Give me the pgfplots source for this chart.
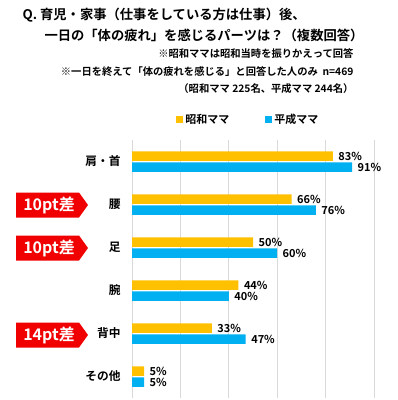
\documentclass[border=0pt]{standalone}
\usepackage{pgfplots}
\pgfplotsset{compat=1.18}
\usepackage{fontspec}
\setmainfont{Noto Sans CJK JP}[BoldFont={* Bold}]
\definecolor{showa}{RGB}{255,192,0}
\definecolor{heisei}{RGB}{0,176,240}
\definecolor{redtag}{RGB}{240,0,0}
\newcommand{\fs}[1]{\fontsize{#1bp}{#1bp}\selectfont}
\begin{document}
\begin{tikzpicture}[x=1bp,y=-1bp]
\path[use as bounding box] (0,0) rectangle (398,400);
% title
\node[anchor=west,font=\bfseries\fs{13.3}] at (19,15) {Q. 育児・家事（仕事をしている方は仕事）後、};
\node[anchor=west,font=\bfseries\fs{13.3}] at (41,35) {一日の「体の疲れ」を感じるパーツは？（複数回答）};
\node[anchor=east,font=\bfseries\fs{10.3}] at (357,54) {※昭和ママは昭和当時を振りかえって回答};
\node[anchor=east,font=\bfseries\fs{10.3}] at (357,72) {※一日を終えて「体の疲れを感じる」と回答した人のみ\ \ n=469};
\node[anchor=east,font=\bfseries\fs{10.3}] at (357,89) {（昭和ママ 225名、平成ママ 244名）};
\begin{axis}[
  at={(132bp,-398bp)}, anchor=south west,
  scale only axis, width=242bp, height=258bp,
  xbar, y dir=reverse,
  xmin=0, xmax=100, ymin=-0.5, ymax=5.5, enlargelimits=false,
  xtick={0,20,...,100}, xticklabels={},
  ytick={0,...,5}, yticklabels={肩・首,腰,足,腕,背中,その他},
  y tick label style={font=\bfseries\fs{11.7}, xshift=-8bp},
  xmajorgrids, grid style={gray!30, line width=0.7pt},
  axis line style={draw=none}, major tick length=0pt,
  bar width=9.5bp,
  nodes near coords={\pgfmathprintnumber{\pgfplotspointmeta}\%},
  nodes near coords style={font=\bfseries\fs{11}, anchor=west, xshift=2bp, /pgf/number format/assume math mode=true},
  legend columns=2,
  legend style={draw=none, at={(0.17,1.08)}, anchor=west, font=\bfseries\fs{11},
    /tikz/every even column/.append style={column sep=34bp}},
  legend image code/.code={\fill[#1] (0bp,-3.5bp) rectangle (7bp,3.5bp);},
]
\addplot[fill=showa, draw=none, bar shift=5.5bp] coordinates {(83,0) (66,1) (50,2) (44,3) (33,4) (5,5)};
\addplot[fill=heisei, draw=none, bar shift=-5.5bp] coordinates {(91,0) (76,1) (60,2) (40,3) (47,4) (5,5)};
\legend{昭和ママ,平成ママ}
\end{axis}
% difference tags
\foreach \yy/\txt in {205/10pt差, 248/10pt差, 335/14pt差}{
  \fill[redtag] (16,\yy-12.5) -- (79,\yy-12.5) -- (88,\yy) -- (79,\yy+12.5) -- (16,\yy+12.5) -- cycle;
  \node[text=white,font=\bfseries\fs{16}] at (49,\yy) {\txt};
}
\end{tikzpicture}
\end{document}
